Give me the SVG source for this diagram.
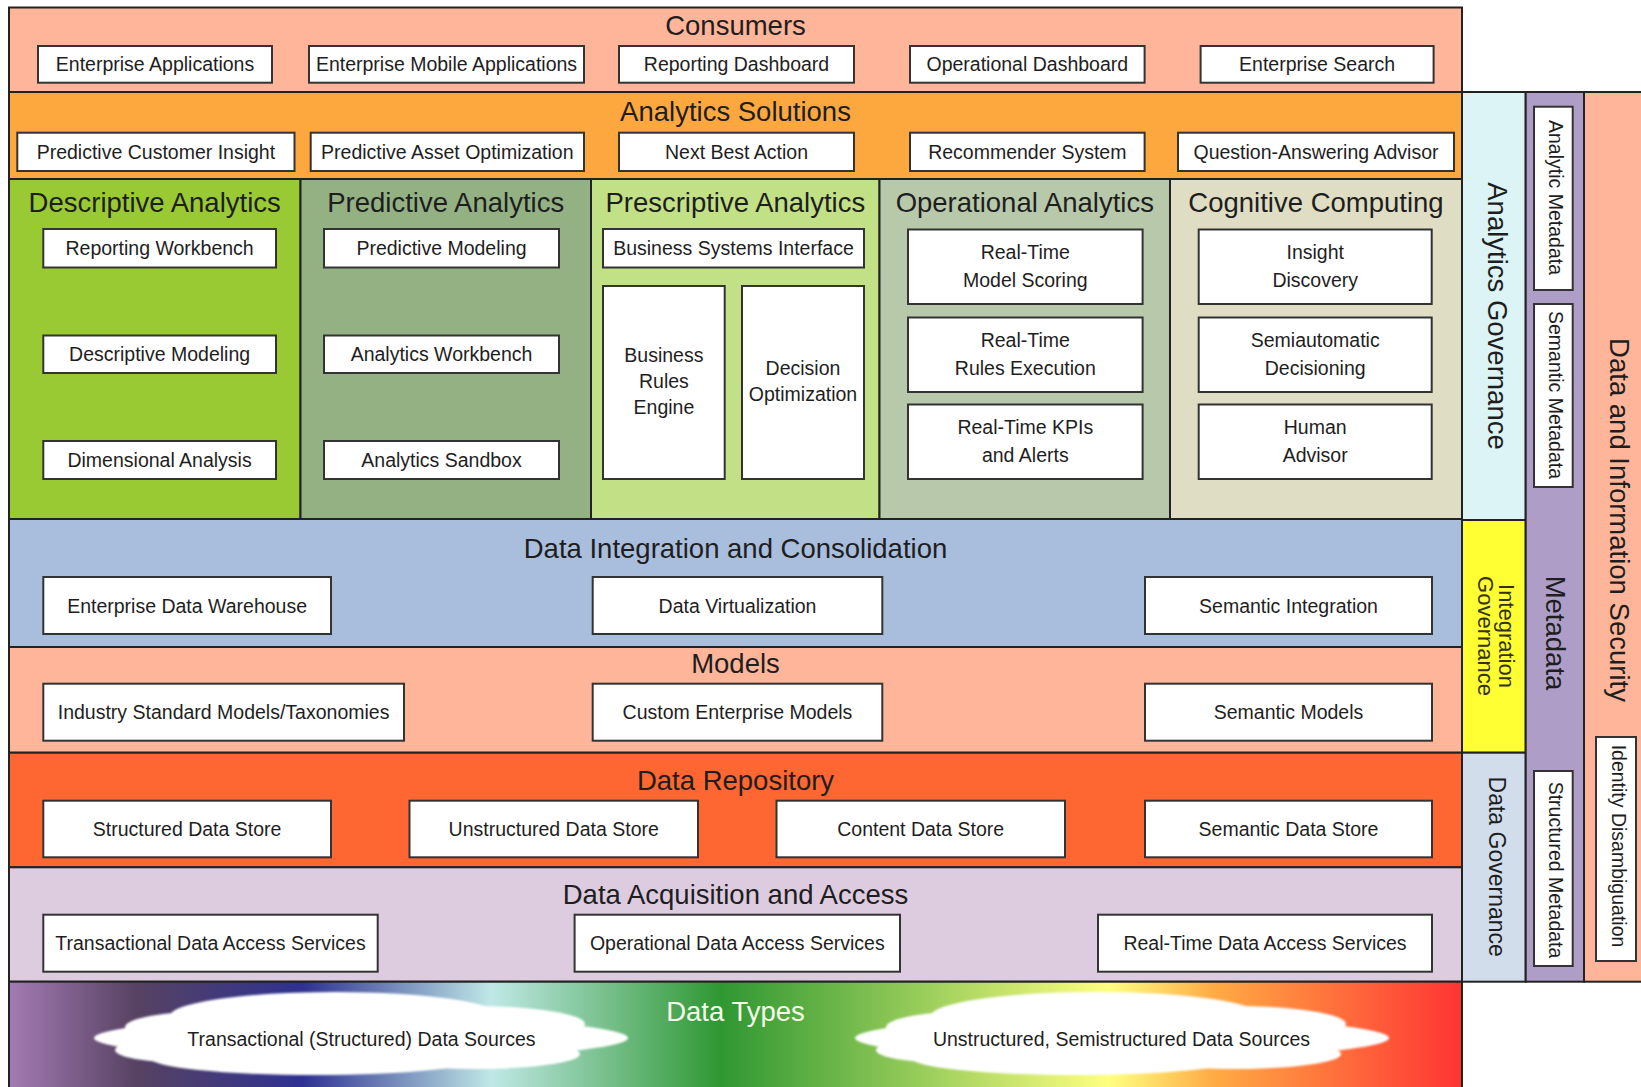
<svg xmlns="http://www.w3.org/2000/svg" width="1641" height="1087" viewBox="0 0 1641 1087">
<style>
.band{stroke:#222;stroke-width:2}
.box{fill:#fff;stroke:#333;stroke-width:2}
.t{font-family:"Liberation Sans",Arial,sans-serif;font-size:19.5px;fill:#1e1e1e;text-anchor:middle}
.h{font-family:"Liberation Sans",Arial,sans-serif;font-size:27.5px;fill:#1e1e1e;text-anchor:middle}
.cloud{fill:#fff}
</style>
<defs>
<linearGradient id="spectrum" x1="9" y1="0" x2="1462" y2="0" gradientUnits="userSpaceOnUse">
<stop offset="0" stop-color="#A47BB4"/>
<stop offset="0.087" stop-color="#574262"/>
<stop offset="0.202" stop-color="#2E3192"/>
<stop offset="0.332" stop-color="#BFE8E6"/>
<stop offset="0.49" stop-color="#2F9732"/>
<stop offset="0.613" stop-color="#8DC756"/>
<stop offset="0.757" stop-color="#FFFF80"/>
<stop offset="0.83" stop-color="#FFAA44"/>
<stop offset="1" stop-color="#FF3333"/>
</linearGradient>
<filter id="soft" x="-5%" y="-20%" width="110%" height="140%"><feGaussianBlur stdDeviation="1.2"/></filter>
</defs>
<rect width="1641" height="1087" fill="#fff"/>

<!-- Consumers -->
<g id="consumers">
<rect class="band" x="9" y="7.5" width="1453" height="84.5" fill="#FFB599"/>
<text class="h" x="735.5" y="35">Consumers</text>
<g id="enterprise-applications"><rect class="box" x="38" y="46" width="234" height="36.7"/><text class="t" x="155" y="71.4">Enterprise Applications</text></g>
<g id="enterprise-mobile-applications"><rect class="box" x="309" y="46" width="275" height="36.7"/><text class="t" x="446.5" y="71.4">Enterprise Mobile Applications</text></g>
<g id="reporting-dashboard"><rect class="box" x="619" y="46" width="235" height="36.7"/><text class="t" x="736.5" y="71.4">Reporting Dashboard</text></g>
<g id="operational-dashboard"><rect class="box" x="910" y="46" width="234.6" height="36.7"/><text class="t" x="1027.3" y="71.4">Operational Dashboard</text></g>
<g id="enterprise-search"><rect class="box" x="1200.6" y="46" width="233" height="36.7"/><text class="t" x="1317.1" y="71.4">Enterprise Search</text></g>
</g>

<!-- Analytics Solutions -->
<g id="analytics-solutions">
<rect class="band" x="9" y="92" width="1453" height="87" fill="#FDA83F"/>
<text class="h" x="735.5" y="120.7">Analytics Solutions</text>
<g id="predictive-customer-insight"><rect class="box" x="17.3" y="132.7" width="277.2" height="38.3"/><text class="t" x="155.9" y="158.9">Predictive Customer Insight</text></g>
<g id="predictive-asset-optimization"><rect class="box" x="310.7" y="132.7" width="273.3" height="38.3"/><text class="t" x="447.3" y="158.9">Predictive Asset Optimization</text></g>
<g id="next-best-action"><rect class="box" x="619" y="132.7" width="235" height="38.3"/><text class="t" x="736.5" y="158.9">Next Best Action</text></g>
<g id="recommender-system"><rect class="box" x="910" y="132.7" width="234.6" height="38.3"/><text class="t" x="1027.3" y="158.9">Recommender System</text></g>
<g id="question-answering-advisor"><rect class="box" x="1178" y="132.7" width="276" height="38.3"/><text class="t" x="1316" y="158.9">Question-Answering Advisor</text></g>
</g>

<!-- Descriptive Analytics -->
<g id="descriptive-analytics">
<rect class="band" x="9" y="179" width="291.5" height="340" fill="#99CA33"/>
<text class="h" x="154.7" y="211.7">Descriptive Analytics</text>
<g id="reporting-workbench"><rect class="box" x="43.3" y="229" width="232.7" height="38.5"/><text class="t" x="159.6" y="255.3">Reporting Workbench</text></g>
<g id="descriptive-modeling"><rect class="box" x="43.3" y="335.5" width="232.7" height="37.5"/><text class="t" x="159.6" y="361.3">Descriptive Modeling</text></g>
<g id="dimensional-analysis"><rect class="box" x="43.3" y="441" width="232.7" height="38"/><text class="t" x="159.6" y="467">Dimensional Analysis</text></g>
</g>

<!-- Predictive Analytics -->
<g id="predictive-analytics">
<rect class="band" x="300.5" y="179" width="290.5" height="340" fill="#93B183"/>
<text class="h" x="445.7" y="211.7">Predictive Analytics</text>
<g id="predictive-modeling"><rect class="box" x="324" y="229" width="235" height="38.5"/><text class="t" x="441.5" y="255.3">Predictive Modeling</text></g>
<g id="analytics-workbench"><rect class="box" x="324" y="335.5" width="235" height="37.5"/><text class="t" x="441.5" y="361.3">Analytics Workbench</text></g>
<g id="analytics-sandbox"><rect class="box" x="324" y="441" width="235" height="38"/><text class="t" x="441.5" y="467">Analytics Sandbox</text></g>
</g>

<!-- Prescriptive Analytics -->
<g id="prescriptive-analytics">
<rect class="band" x="591" y="179" width="288.5" height="340" fill="#C2E086"/>
<text class="h" x="735.3" y="211.7">Prescriptive Analytics</text>
<g id="business-systems-interface"><rect class="box" x="603" y="229" width="261" height="38.5"/><text class="t" x="733.5" y="255.3">Business Systems Interface</text></g>
<g id="business-rules-engine"><rect class="box" x="603" y="286" width="121.7" height="193"/><text class="t" x="663.9" y="361.5">Business</text><text class="t" x="663.9" y="387.5">Rules</text><text class="t" x="663.9" y="413.5">Engine</text></g>
<g id="decision-optimization"><rect class="box" x="742" y="286" width="122" height="193"/><text class="t" x="803" y="375">Decision</text><text class="t" x="803" y="401">Optimization</text></g>
</g>

<!-- Operational Analytics -->
<g id="operational-analytics">
<rect class="band" x="879.5" y="179" width="290.5" height="340" fill="#B7C9AA"/>
<text class="h" x="1024.8" y="211.7">Operational Analytics</text>
<g id="real-time-model-scoring"><rect class="box" x="908" y="229.5" width="234.6" height="74.5"/><text class="t" x="1025.3" y="258.8">Real-Time</text><text class="t" x="1025.3" y="286.8">Model Scoring</text></g>
<g id="real-time-rules-execution"><rect class="box" x="908" y="317.5" width="234.6" height="74.5"/><text class="t" x="1025.3" y="346.8">Real-Time</text><text class="t" x="1025.3" y="374.8">Rules Execution</text></g>
<g id="real-time-kpis-alerts"><rect class="box" x="908" y="404.5" width="234.6" height="74.5"/><text class="t" x="1025.3" y="433.8">Real-Time KPIs</text><text class="t" x="1025.3" y="461.8">and Alerts</text></g>
</g>

<!-- Cognitive Computing -->
<g id="cognitive-computing">
<rect class="band" x="1170" y="179" width="292" height="340" fill="#DFDDC4"/>
<text class="h" x="1316" y="211.7">Cognitive Computing</text>
<g id="insight-discovery"><rect class="box" x="1198.7" y="229.5" width="233" height="74.5"/><text class="t" x="1315.2" y="258.8">Insight</text><text class="t" x="1315.2" y="286.8">Discovery</text></g>
<g id="semiautomatic-decisioning"><rect class="box" x="1198.7" y="317.5" width="233" height="74.5"/><text class="t" x="1315.2" y="346.8">Semiautomatic</text><text class="t" x="1315.2" y="374.8">Decisioning</text></g>
<g id="human-advisor"><rect class="box" x="1198.7" y="404.5" width="233" height="74.5"/><text class="t" x="1315.2" y="433.8">Human</text><text class="t" x="1315.2" y="461.8">Advisor</text></g>
</g>

<!-- Data Integration and Consolidation -->
<g id="data-integration">
<rect class="band" x="9" y="519" width="1453" height="128" fill="#A9BDDD"/>
<text class="h" x="735.5" y="558">Data Integration and Consolidation</text>
<g id="enterprise-data-warehouse"><rect class="box" x="43.3" y="577" width="287.7" height="57"/><text class="t" x="187.1" y="612.5">Enterprise Data Warehouse</text></g>
<g id="data-virtualization"><rect class="box" x="592.7" y="577" width="289.6" height="57"/><text class="t" x="737.5" y="612.5">Data Virtualization</text></g>
<g id="semantic-integration"><rect class="box" x="1145" y="577" width="287" height="57"/><text class="t" x="1288.5" y="612.5">Semantic Integration</text></g>
</g>

<!-- Models -->
<g id="models">
<rect class="band" x="9" y="647" width="1453" height="105.7" fill="#FFB599"/>
<text class="h" x="735.5" y="672.7">Models</text>
<g id="industry-standard-models"><rect class="box" x="43.3" y="683.7" width="360.7" height="57"/><text class="t" x="223.6" y="719.2">Industry Standard Models/Taxonomies</text></g>
<g id="custom-enterprise-models"><rect class="box" x="592.7" y="683.7" width="289.6" height="57"/><text class="t" x="737.5" y="719.2">Custom Enterprise Models</text></g>
<g id="semantic-models"><rect class="box" x="1145" y="683.7" width="287" height="57"/><text class="t" x="1288.5" y="719.2">Semantic Models</text></g>
</g>

<!-- Data Repository -->
<g id="data-repository">
<rect class="band" x="9" y="752.7" width="1453" height="114.6" fill="#FE6632"/>
<text class="h" x="735.5" y="789.5">Data Repository</text>
<g id="structured-data-store"><rect class="box" x="43.3" y="800.7" width="287.7" height="56.6"/><text class="t" x="187.1" y="836">Structured Data Store</text></g>
<g id="unstructured-data-store"><rect class="box" x="409.5" y="800.7" width="288.5" height="56.6"/><text class="t" x="553.7" y="836">Unstructured Data Store</text></g>
<g id="content-data-store"><rect class="box" x="776.5" y="800.7" width="288.5" height="56.6"/><text class="t" x="920.7" y="836">Content Data Store</text></g>
<g id="semantic-data-store"><rect class="box" x="1145" y="800.7" width="287" height="56.6"/><text class="t" x="1288.5" y="836">Semantic Data Store</text></g>
</g>

<!-- Data Acquisition and Access -->
<g id="data-acquisition">
<rect class="band" x="9" y="867.3" width="1453" height="114.4" fill="#DDCBE0"/>
<text class="h" x="735.5" y="903.5">Data Acquisition and Access</text>
<g id="transactional-data-access"><rect class="box" x="43.3" y="914.7" width="334.4" height="57"/><text class="t" x="210.5" y="950.2">Transactional Data Access Services</text></g>
<g id="operational-data-access"><rect class="box" x="574.6" y="914.7" width="325.4" height="57"/><text class="t" x="737.3" y="950.2">Operational Data Access Services</text></g>
<g id="real-time-data-access"><rect class="box" x="1098" y="914.7" width="334" height="57"/><text class="t" x="1265" y="950.2">Real-Time Data Access Services</text></g>
</g>

<!-- Data Types -->
<g id="data-types">
<rect class="band" x="9" y="981.7" width="1453" height="110" fill="url(#spectrum)"/>
<text class="h" x="735.5" y="1021" style="fill:#F6FAEA">Data Types</text>
<g id="transactional-sources">
<g class="cloud" filter="url(#soft)">
<ellipse cx="361" cy="1038" rx="267" ry="21"/>
<ellipse cx="335" cy="1016" rx="165" ry="24"/>
<ellipse cx="470" cy="1024" rx="115" ry="18"/>
<ellipse cx="215" cy="1027" rx="90" ry="16"/>
<ellipse cx="315" cy="1058" rx="165" ry="17"/>
<ellipse cx="475" cy="1054" rx="105" ry="15"/>
<ellipse cx="190" cy="1050" rx="75" ry="13"/>
</g>
<text class="t" x="361.5" y="1046">Transactional (Structured) Data Sources</text>
</g>
<g id="unstructured-sources">
<g class="cloud" filter="url(#soft)">
<ellipse cx="1122" cy="1038" rx="267" ry="21"/>
<ellipse cx="1096" cy="1016" rx="165" ry="24"/>
<ellipse cx="1231" cy="1024" rx="115" ry="18"/>
<ellipse cx="976" cy="1027" rx="90" ry="16"/>
<ellipse cx="1076" cy="1058" rx="165" ry="17"/>
<ellipse cx="1236" cy="1054" rx="105" ry="15"/>
<ellipse cx="951" cy="1050" rx="75" ry="13"/>
</g>
<text class="t" x="1121.5" y="1046">Unstructured, Semistructured Data Sources</text>
</g>
</g>

<!-- Governance column -->
<g id="analytics-governance">
<rect class="band" x="1462" y="92" width="63.7" height="428" fill="#DDF4F6"/>
<text class="h" transform="translate(1494,316) rotate(90)" x="0" y="5.7">Analytics Governance</text>
</g>
<g id="integration-governance">
<rect class="band" x="1462" y="520" width="63.7" height="232.7" fill="#FFFF33"/>
<g transform="translate(1494,636) rotate(90)">
<text class="t" style="font-size:22px;fill:#33330f" x="0" y="-5">Integration</text>
<text class="t" style="font-size:22px;fill:#33330f" x="0" y="16">Governance</text>
</g>
</g>
<g id="data-governance">
<rect class="band" x="1462" y="752.7" width="63.7" height="229" fill="#D1DDEB"/>
<text class="t" style="font-size:23px" transform="translate(1494,866.7) rotate(90)" x="0" y="5.5">Data Governance</text>
</g>

<!-- Metadata column -->
<g id="metadata">
<rect class="band" x="1525.7" y="92" width="58.3" height="889.7" fill="#AE9EC7"/>
<text class="h" transform="translate(1555,633) rotate(90)" x="0" y="8.6">Metadata</text>
<g id="analytic-metadata"><rect class="box" x="1534" y="106.7" width="38.7" height="183.3"/><text class="t" transform="translate(1553.3,197.5) rotate(90)" x="0" y="4.6">Analytic Metadata</text></g>
<g id="semantic-metadata"><rect class="box" x="1534" y="304" width="38.7" height="183"/><text class="t" transform="translate(1553.3,395) rotate(90)" x="0" y="4.6">Semantic Metadata</text></g>
<g id="structured-metadata"><rect class="box" x="1534" y="771" width="38.7" height="195"/><text class="t" transform="translate(1553.3,870) rotate(90)" x="0" y="4.6">Structured Metadata</text></g>
</g>

<!-- Data and Information Security column -->
<g id="data-information-security">
<rect class="band" x="1584" y="92" width="58" height="889.7" fill="#FFB599"/>
<text class="h" transform="translate(1612.5,520) rotate(90)" x="0" y="2.2">Data and Information Security</text>
<g id="identity-disambiguation"><rect class="box" x="1596" y="737" width="40" height="224"/><text class="t" transform="translate(1616,846) rotate(90)" x="0" y="4">Identity Disambiguation</text></g>
</g>

<g id="connectors"/>
</svg>
